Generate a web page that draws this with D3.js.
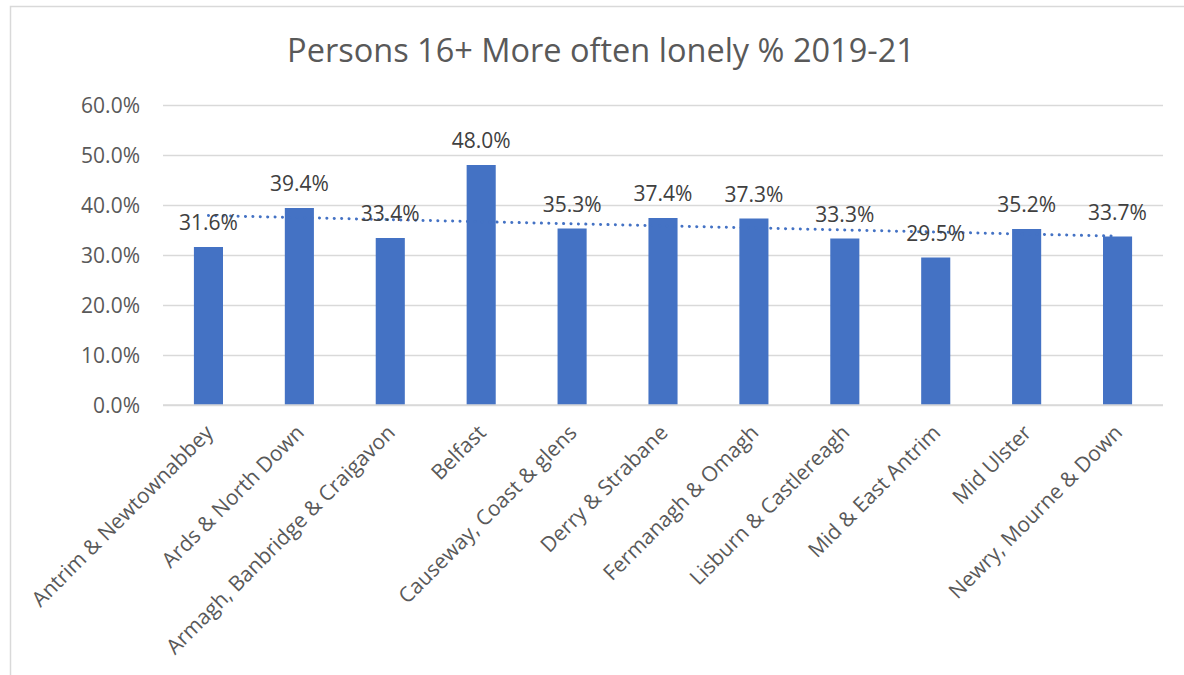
<!DOCTYPE html>
<html>
<head>
<meta charset="utf-8">
<script src="https://cdn.jsdelivr.net/npm/d3@7"></script>
<style>
  html, body { margin: 0; padding: 0; background: #fff; }
  svg { display: block; }
  text { font-family: "Open Sans", sans-serif; }
</style>
</head>
<body>
<svg id="chart" width="1184" height="675"></svg>
<script>
const title = "Persons 16+ More often lonely % 2019-21";
const categories = [
  "Antrim & Newtownabbey",
  "Ards & North Down",
  "Armagh, Banbridge & Craigavon",
  "Belfast",
  "Causeway, Coast & glens",
  "Derry & Strabane",
  "Fermanagh & Omagh",
  "Lisburn & Castlereagh",
  "Mid & East Antrim",
  "Mid Ulster",
  "Newry, Mourne & Down"
];
const values = [31.6, 39.4, 33.4, 48.0, 35.3, 37.4, 37.3, 33.3, 29.5, 35.2, 33.7];
const yTicks = [0, 10, 20, 30, 40, 50, 60];

const svg = d3.select("#chart");
const W = 1184, H = 675;
const plot = { left: 163, right: 1163, top: 105, bottom: 405 };

svg.append("rect").attr("x", 0).attr("y", 0).attr("width", W).attr("height", H).attr("fill", "#fff");
// chart frame (right/bottom edges fall outside the picture)
svg.append("rect")
  .attr("x", 10.5).attr("y", 6.5).attr("width", 1200).attr("height", 700)
  .attr("fill", "none").attr("stroke", "#D9D9D9").attr("stroke-width", 1.5);

const x = d3.scaleBand().domain(categories).range([plot.left, plot.right])
  .paddingInner(0.68).paddingOuter(0.34);
const y = d3.scaleLinear().domain([0, 60]).range([plot.bottom, plot.top]);

// title
svg.append("text")
  .attr("x", 601).attr("y", 62)
  .attr("text-anchor", "middle")
  .attr("fill", "#595959")
  .style("font-size", "32.5px")
  .text(title);

// gridlines + y labels
const yAxis = d3.axisLeft(y).tickValues(yTicks)
  .tickSize(-(plot.right - plot.left))
  .tickFormat(d => d3.format(".1f")(d) + "%");
const gy = svg.append("g").attr("transform", `translate(${plot.left},0)`).call(yAxis);
gy.select(".domain").remove();
gy.selectAll(".tick line").attr("stroke", "#D9D9D9").attr("stroke-width", 1.3);
gy.selectAll(".tick text")
  .attr("x", -23).attr("dy", "0.38em")
  .attr("fill", "#595959")
  .style("font-size", "21px");

// bars
svg.append("g").selectAll("rect").data(values).join("rect")
  .attr("x", (d, i) => x(categories[i]))
  .attr("y", d => y(d))
  .attr("width", x.bandwidth())
  .attr("height", d => y(0) - y(d))
  .attr("fill", "#4472C4");

// x axis line
const xAxis = d3.axisBottom(x).tickSize(0).tickSizeOuter(0);
const gx = svg.append("g").attr("transform", `translate(0,${plot.bottom})`).call(xAxis);
gx.select(".domain").attr("stroke", "#D9D9D9").attr("stroke-width", 1.5)
  .attr("d", `M${plot.left},0H${plot.right}`);
gx.selectAll(".tick text")
  .attr("fill", "#595959")
  .style("font-size", "21px")
  .attr("text-anchor", "end")
  .attr("x", 0).attr("y", 0).attr("dy", 0)
  .attr("transform", "translate(6,29) rotate(-45)");

// linear trendline (least squares fit over the category index)
const n = values.length;
const xs = d3.range(1, n + 1);
const mx = d3.mean(xs), my = d3.mean(values);
const slope = d3.sum(xs, (xi, i) => (xi - mx) * (values[i] - my)) / d3.sum(xs, xi => (xi - mx) ** 2);
const icpt = my - slope * mx;
const trend = [1, n].map(xi => ({ c: categories[xi - 1], v: icpt + slope * xi }));
svg.append("path")
  .datum(trend)
  .attr("d", d3.line().x(d => x(d.c) + x.bandwidth() / 2).y(d => y(d.v)))
  .attr("fill", "none")
  .attr("stroke", "#4472C4")
  .attr("stroke-width", 3)
  .attr("stroke-linecap", "round")
  .attr("stroke-dasharray", "0.1 7.3");

// data labels
svg.append("g").selectAll("text").data(values).join("text")
  .attr("x", (d, i) => x(categories[i]) + x.bandwidth() / 2)
  .attr("y", d => y(d) - 17)
  .attr("text-anchor", "middle")
  .attr("fill", "#404040")
  .style("font-size", "21px")
  .text(d => d3.format(".1f")(d) + "%");
</script>
</body>
</html>
